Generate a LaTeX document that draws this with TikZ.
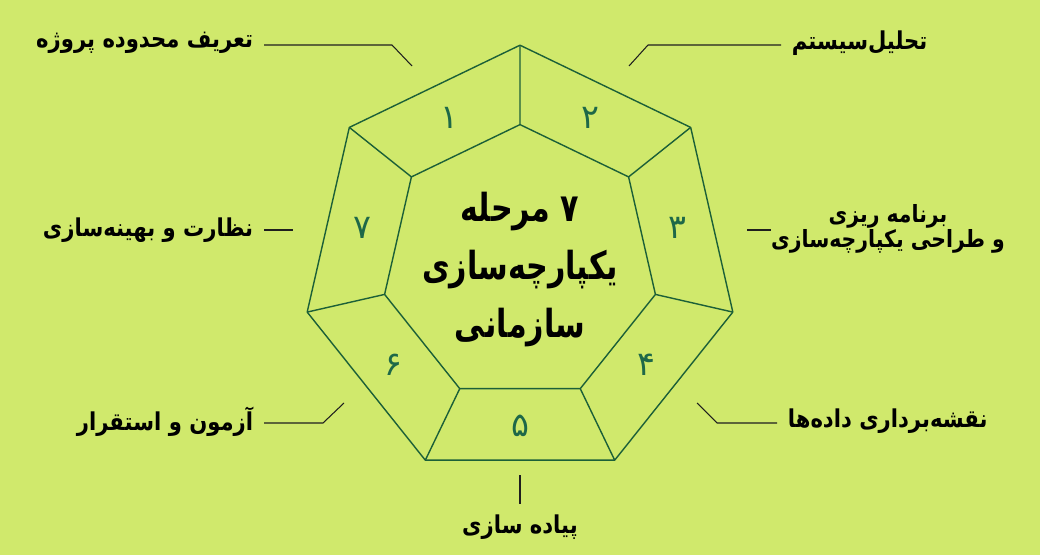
\documentclass[tikz,border=0pt]{standalone}
\usepackage{fontspec}
\newfontfamily\farsi[Script=Arabic]{DejaVu Sans}
\TeXXeTstate=1
\definecolor{bgcol}{RGB}{208,233,108}
\definecolor{framecol}{RGB}{28,96,56}
\definecolor{numcol}{RGB}{30,104,72}
\definecolor{leadcol}{RGB}{30,30,30}
% one right-to-left line, a little narrowed
\newcommand{\faline}[2][0.86]{\scalebox{#1}[1]{\beginR #2\endR}}
\tikzset{
  frame/.style={draw=framecol,line width=0.8pt,line join=round},
  leader/.style={draw=leadcol,line width=0.6pt},
  stagetext/.style={font=\farsi\bfseries\fontsize{14}{15}\selectfont,inner xsep=6pt,inner ysep=2pt,align=center},
  stagenum/.style={font=\farsi\fontsize{19}{20}\selectfont,text=numcol,inner sep=0pt},
  titletext/.style={font=\farsi\bfseries\fontsize{22}{33}\selectfont,align=center}
}
\begin{document}
\begin{tikzpicture}[x=0.02cm,y=0.02cm]
\fill[bgcol] (0,0) rectangle (1040,555);
\useasboundingbox (0,0) rectangle (1040,555);

% heptagon frame
\begin{scope}[shift={(520,291.5)}]
\coordinate (o1) at (90:218.3);
\coordinate (o2) at (38.57:218.3);
\coordinate (o3) at (-12.86:218.3);
\coordinate (o4) at (-64.29:218.3);
\coordinate (o5) at (-115.71:218.3);
\coordinate (o6) at (-167.14:218.3);
\coordinate (o7) at (141.43:218.3);

\coordinate (i1) at (90:138.9);
\coordinate (i2) at (38.57:138.9);
\coordinate (i3) at (-12.86:138.9);
\coordinate (i4) at (-64.29:138.9);
\coordinate (i5) at (-115.71:138.9);
\coordinate (i6) at (-167.14:138.9);
\coordinate (i7) at (141.43:138.9);

\draw[frame] (o1) -- (o2) -- (o3) -- (o4) -- (o5) -- (o6) -- (o7) -- cycle;
\draw[frame] (i1) -- (i2) -- (i3) -- (i4) -- (i5) -- (i6) -- (i7) -- cycle;
\draw[frame] (o1) -- (i1) (o2) -- (i2) (o3) -- (i3) (o4) -- (i4)
  (o5) -- (i5) (o6) -- (i6) (o7) -- (i7);

% step numbers
\node[stagenum] (n1) at (115.71:162) {۱};
\node[stagenum] (n2) at (64.29:162) {۲};
\node[stagenum] (n3) at (12.86:162) {۳};
\node[stagenum] (n4) at (-38.57:162) {۴};
\node[stagenum] (n5) at (-90:162) {۵};
\node[stagenum] (n6) at (-141.43:162) {۶};
\node[stagenum] (n7) at (167.14:162) {۷};

\node[titletext] (title) at (0,-6) {\faline[0.78]{۷ مرحله}\\\faline[0.78]{یکپارچه‌سازی}\\\faline[0.78]{سازمانی}};
\end{scope}

% step labels
\node[stagetext,anchor=east] (t1) at (264,512) {\faline{تعریف محدوده پروژه}};
\node[stagetext,anchor=west] (t2) at (781,512) {\faline{تحلیل‌سیستم}};
\node[stagetext,inner xsep=0pt,font=\farsi\bfseries\fontsize{13.5}{14.5}\selectfont] (t3) at (888,326) {\faline{برنامه ریزی}\\\faline{و طراحی یکپارچه‌سازی}};
\node[stagetext,anchor=west] (t4) at (777,134) {\faline{نقشه‌برداری داده‌ها}};
\node[stagetext] (t5) at (520,28) {\faline{پیاده سازی}};
\node[stagetext,anchor=east] (t6) at (264,133) {\faline{آزمون و استقرار}};
\node[stagetext,anchor=east] (t7) at (264,325) {\faline{نظارت و بهینه‌سازی}};

% leader lines
\coordinate (b1) at (392,510);
\coordinate (e1) at (412,489);
\coordinate (b2) at (648,510);
\coordinate (e2) at (629,489);
\coordinate (e3) at (747,325);
\coordinate (b4) at (717,132);
\coordinate (e4) at (697,152);
\coordinate (e5) at (520,80);
\coordinate (b6) at (323,132);
\coordinate (e6) at (344,152);
\coordinate (e7) at (293,325);

\draw[leader] (t1.east |- b1) -- (b1) -- (e1);
\draw[leader] (t2.west |- b2) -- (b2) -- (e2);
\draw[leader] (t3.west |- e3) -- (e3);
\draw[leader] (t4.west |- b4) -- (b4) -- (e4);
\draw[leader,shorten <=4pt] (t5.north) -- (e5);
\draw[leader] (t6.east |- b6) -- (b6) -- (e6);
\draw[leader] (t7.east |- e7) -- (e7);

\end{tikzpicture}
\end{document}
